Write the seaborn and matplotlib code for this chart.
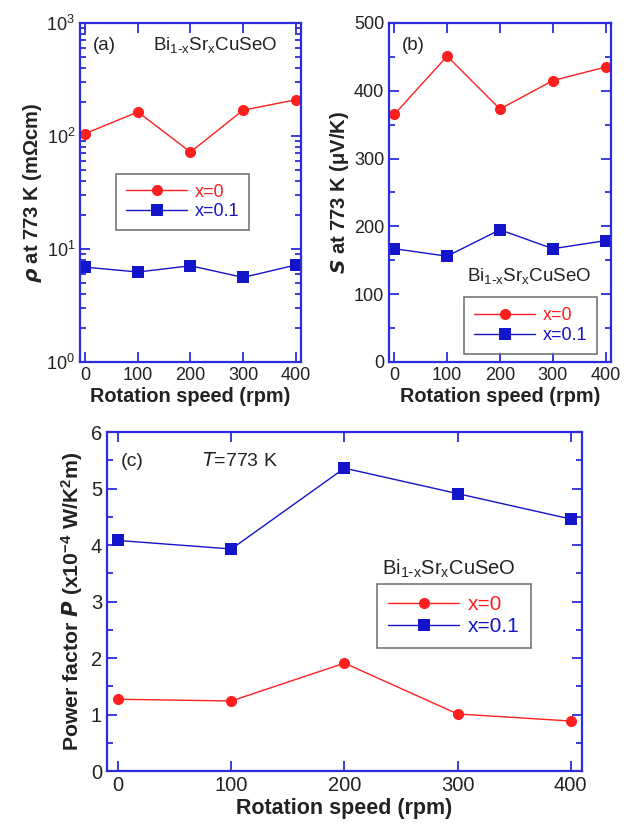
import numpy as np
import pandas as pd
import seaborn as sns
import matplotlib
matplotlib.use("Agg")
import matplotlib.pyplot as plt
from matplotlib.ticker import MultipleLocator, LogLocator, NullFormatter

# 数据
speed = [0, 100, 200, 300, 400]
rho_x0 = [105, 163, 72, 169, 209]
rho_x01 = [6.9, 6.25, 7.1, 5.6, 7.2]
s_x0 = [365, 451, 373, 415, 435]
s_x01 = [167, 156, 195, 167, 179]
pf_x0 = [1.27, 1.24, 1.91, 1.01, 0.885]
pf_x01 = [4.08, 3.93, 5.36, 4.91, 4.46]
labels = ["x=0", "x=0.1"]

sns.set_style("white")
plt.rcParams["font.family"] = ["Liberation Sans", "DejaVu Sans"]
plt.rcParams["mathtext.default"] = "regular"

frame_c = "#2b2be0"
red = "#ff1f1f"
blue = "#1414c8"
txt = "#222222"
compound = r"Bi$_{1\text{-}x}$Sr$_x$CuSeO"

fig = plt.figure(figsize=(6.33, 8.34), dpi=100)
ax_a = fig.add_axes([0.1264, 0.566, 0.349, 0.4065])
ax_b = fig.add_axes([0.6145, 0.566, 0.3507, 0.4065])
ax_c = fig.add_axes([0.169, 0.0755, 0.7504, 0.4065])


def draw(ax, y0, y1, fs_tick, fs_lab):
    df = pd.DataFrame({"speed": speed + speed,
                       "val": y0 + y1,
                       "x": [labels[0]] * 5 + [labels[1]] * 5})
    sns.lineplot(data=df, x="speed", y="val", hue="x", style="x",
                 markers=["o", "s"], dashes=False, palette=[red, blue],
                 markersize=8, markeredgewidth=0, linewidth=1.0, ax=ax,
                 legend=False)
    for ln in ax.lines:
        ln.set_clip_on(False)
    for sp in ax.spines.values():
        sp.set_color(frame_c)
        sp.set_linewidth(1.6)
    ax.tick_params(which="both", direction="in", top=True, right=True,
                   bottom=True, left=True, colors=frame_c, labelcolor=txt,
                   labelsize=fs_tick)
    ax.tick_params(which="major", length=7, width=1.3)
    ax.tick_params(which="minor", length=4, width=1.3)
    ax.set_xlim(-10, 410)
    ax.xaxis.set_major_locator(MultipleLocator(100))
    ax.set_xlabel("Rotation speed (rpm)", fontsize=fs_lab, fontweight="bold",
                  color=txt, labelpad=2)


def add_legend(ax, fs=13, **kw):
    leg = ax.legend(ax.lines[:2], labels, labelcolor=[red, blue], fontsize=fs,
                    frameon=True, fancybox=False, edgecolor="#555555",
                    handlelength=3.4, borderpad=0.55, handletextpad=0.4,
                    labelspacing=0.15, borderaxespad=0, **kw)
    leg.get_frame().set_linewidth(1.2)


# (a)
draw(ax_a, rho_x0, rho_x01, 13, 14.3)
ax_a.set_yscale("log")
ax_a.set_ylim(1, 1000)
ax_a.yaxis.set_major_locator(LogLocator(base=10))
ax_a.yaxis.set_minor_locator(LogLocator(base=10, subs=np.arange(2, 10)))
ax_a.yaxis.set_minor_formatter(NullFormatter())
ax_a.set_ylabel(r"$\boldsymbol{\rho}$ at 773 K (m$\Omega$cm)", fontsize=14.5,
                fontweight="bold", color=txt, labelpad=2)
ax_a.text(0.06, 0.92, "(a)", transform=ax_a.transAxes, fontsize=13.5, color=txt)
ax_a.text(0.33, 0.92, compound, transform=ax_a.transAxes, fontsize=13.5, color=txt)
add_legend(ax_a, loc="upper left", bbox_to_anchor=(0.163, 0.555))

# (b)
draw(ax_b, s_x0, s_x01, 13, 14.3)
ax_b.set_ylim(0, 500)
ax_b.yaxis.set_major_locator(MultipleLocator(100))
ax_b.yaxis.set_minor_locator(MultipleLocator(50))
ax_b.set_ylabel(r"$\mathbfit{S}$ at 773 K ($\mu$V/K)", fontsize=14.5,
                fontweight="bold", color=txt, labelpad=2)
ax_b.text(0.06, 0.92, "(b)", transform=ax_b.transAxes, fontsize=13.5, color=txt)
ax_b.text(0.35, 0.24, compound, transform=ax_b.transAxes, fontsize=13.5, color=txt)
add_legend(ax_b, loc="lower right", bbox_to_anchor=(0.937, 0.024))

# (c)
draw(ax_c, pf_x0, pf_x01, 14.5, 15.5)
ax_c.set_ylim(0, 6)
ax_c.yaxis.set_major_locator(MultipleLocator(1))
ax_c.yaxis.set_minor_locator(MultipleLocator(0.5))
ax_c.set_ylabel(r"Power factor $\mathbfit{P}$ (x10$^{-4}$ W/K$^2$m)", fontsize=15.3,
                fontweight="bold", color=txt, labelpad=4)
ax_c.text(0.03, 0.9, "(c)", transform=ax_c.transAxes, fontsize=14, color=txt)
ax_c.text(0.2, 0.9, r"$\it{T}$=773 K", transform=ax_c.transAxes, fontsize=14, color=txt)
ax_c.text(0.58, 0.58, compound, transform=ax_c.transAxes, fontsize=14.5, color=txt)
add_legend(ax_c, fs=15, loc="upper left", bbox_to_anchor=(0.568, 0.552))

fig.savefig("out.png", dpi=100)
